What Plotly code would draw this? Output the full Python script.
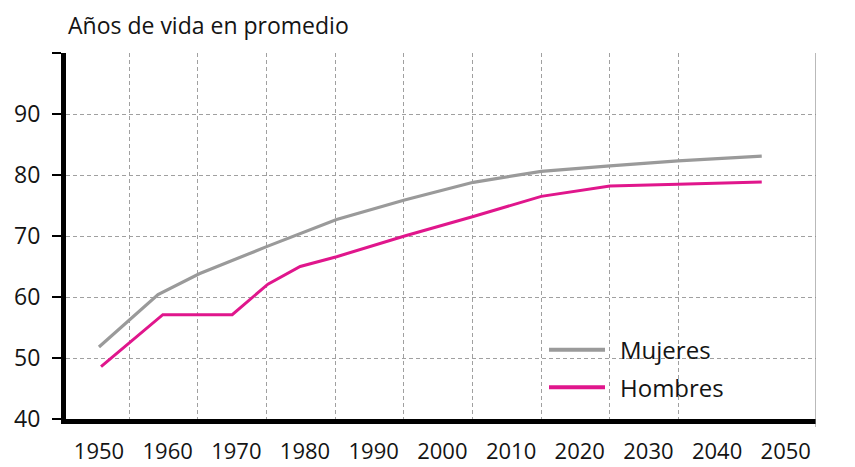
import plotly.graph_objects as go

# Data
years_mujeres = [1950, 1958.6, 1964.6, 1974.5, 1984.6, 1994.5, 2004.5, 2014.4, 2024.4, 2034.3, 2046.5]
vida_mujeres = [51.8, 60.4, 63.8, 68.3, 72.7, 75.9, 78.8, 80.6, 81.5, 82.3, 83.1]

years_hombres = [1950.3, 1959.3, 1969.4, 1974.6, 1979.3, 1984.6, 1994.5, 2004.5, 2014.4, 2024.4, 2034.3, 2046.5]
vida_hombres = [48.6, 57.1, 57.1, 62.1, 65.0, 66.6, 70.0, 73.2, 76.5, 78.2, 78.5, 78.85]

x_tick_labels = [1950, 1960, 1970, 1980, 1990, 2000, 2010, 2020, 2030, 2040, 2050]
y_tick_vals = [40, 50, 60, 70, 80, 90, 100]
y_tick_text = ["40", "50", "60", "70", "80", "90", ""]
grid_years = [1954.4 + 10 * k for k in range(9)]

title_text = "Años de vida en promedio"
name_mujeres = "Mujeres"
name_hombres = "Hombres"

GRAY = "#9a9a9a"
PINK = "#e0168c"
GRID = "#a0a0a0"
TXT = "#141414"
FONT = "Open Sans"

fig = go.Figure()
fig.add_trace(go.Scatter(x=years_mujeres, y=vida_mujeres, mode="lines",
                         line=dict(color=GRAY, width=3.2), name=name_mujeres, showlegend=False))
fig.add_trace(go.Scatter(x=years_hombres, y=vida_hombres, mode="lines",
                         line=dict(color=PINK, width=3), name=name_hombres, showlegend=False))

fig.update_layout(
    width=855, height=467,
    margin=dict(l=66, r=39, t=53, b=48),
    paper_bgcolor="white", plot_bgcolor="white",
    font=dict(family=FONT, color=TXT, size=22),
)

fig.update_xaxes(
    range=[1945.2, 2054.4], automargin=False,
    tickmode="array", tickvals=x_tick_labels, ticktext=[str(v) for v in x_tick_labels],
    showgrid=False, zeroline=False,
    showline=True, linecolor="black", linewidth=5,
    ticks="", ticklabelstandoff=9,
    tickfont=dict(family=FONT, size=22, color=TXT),
    minor=dict(tickmode="array", tickvals=grid_years, showgrid=True,
               gridcolor=GRID, griddash="4px,3px", gridwidth=1, ticks=""),
)
fig.update_yaxes(
    range=[40, 100], automargin=False,
    tickmode="array", tickvals=y_tick_vals, ticktext=y_tick_text,
    showgrid=True, gridcolor=GRID, griddash="4px,3px", gridwidth=1,
    zeroline=False,
    showline=True, linecolor="black", linewidth=5,
    ticks="outside", ticklen=9, tickwidth=1.5, tickcolor="black",
    ticklabelstandoff=7,
    tickfont=dict(family=FONT, size=23, color=TXT),
)

# right border line (solid gray, extends slightly below axis)
fig.add_shape(type="line", xref="x", yref="paper", x0=2054.4, x1=2054.4, y0=-0.022, y1=1,
              line=dict(color="#8a8a8a", width=1.2))

# Title
fig.add_annotation(text=title_text, xref="paper", yref="paper", x=0.0, y=(419 - 25) / 366,
                   xanchor="left", yanchor="middle", showarrow=False,
                   font=dict(family=FONT, size=23, color=TXT))

# Manual legend
legend_items = [(name_mujeres, GRAY, 349.7), (name_hombres, PINK, 387.3)]
for name, color, py in legend_items:
    yp = (419 - py) / 366
    fig.add_shape(type="line", xref="paper", yref="paper",
                  x0=(549 - 66) / 750, x1=(605 - 66) / 750, y0=yp, y1=yp,
                  line=dict(color=color, width=4))
    fig.add_annotation(text=name, xref="paper", yref="paper", x=(618 - 66) / 750, y=yp,
                       xanchor="left", yanchor="middle", showarrow=False,
                       font=dict(family=FONT, size=24, color=TXT))

fig.write_html("out.html", config={"displayModeBar": False},
               post_script="document.body.style.margin='0';document.body.style.overflow='hidden';")
